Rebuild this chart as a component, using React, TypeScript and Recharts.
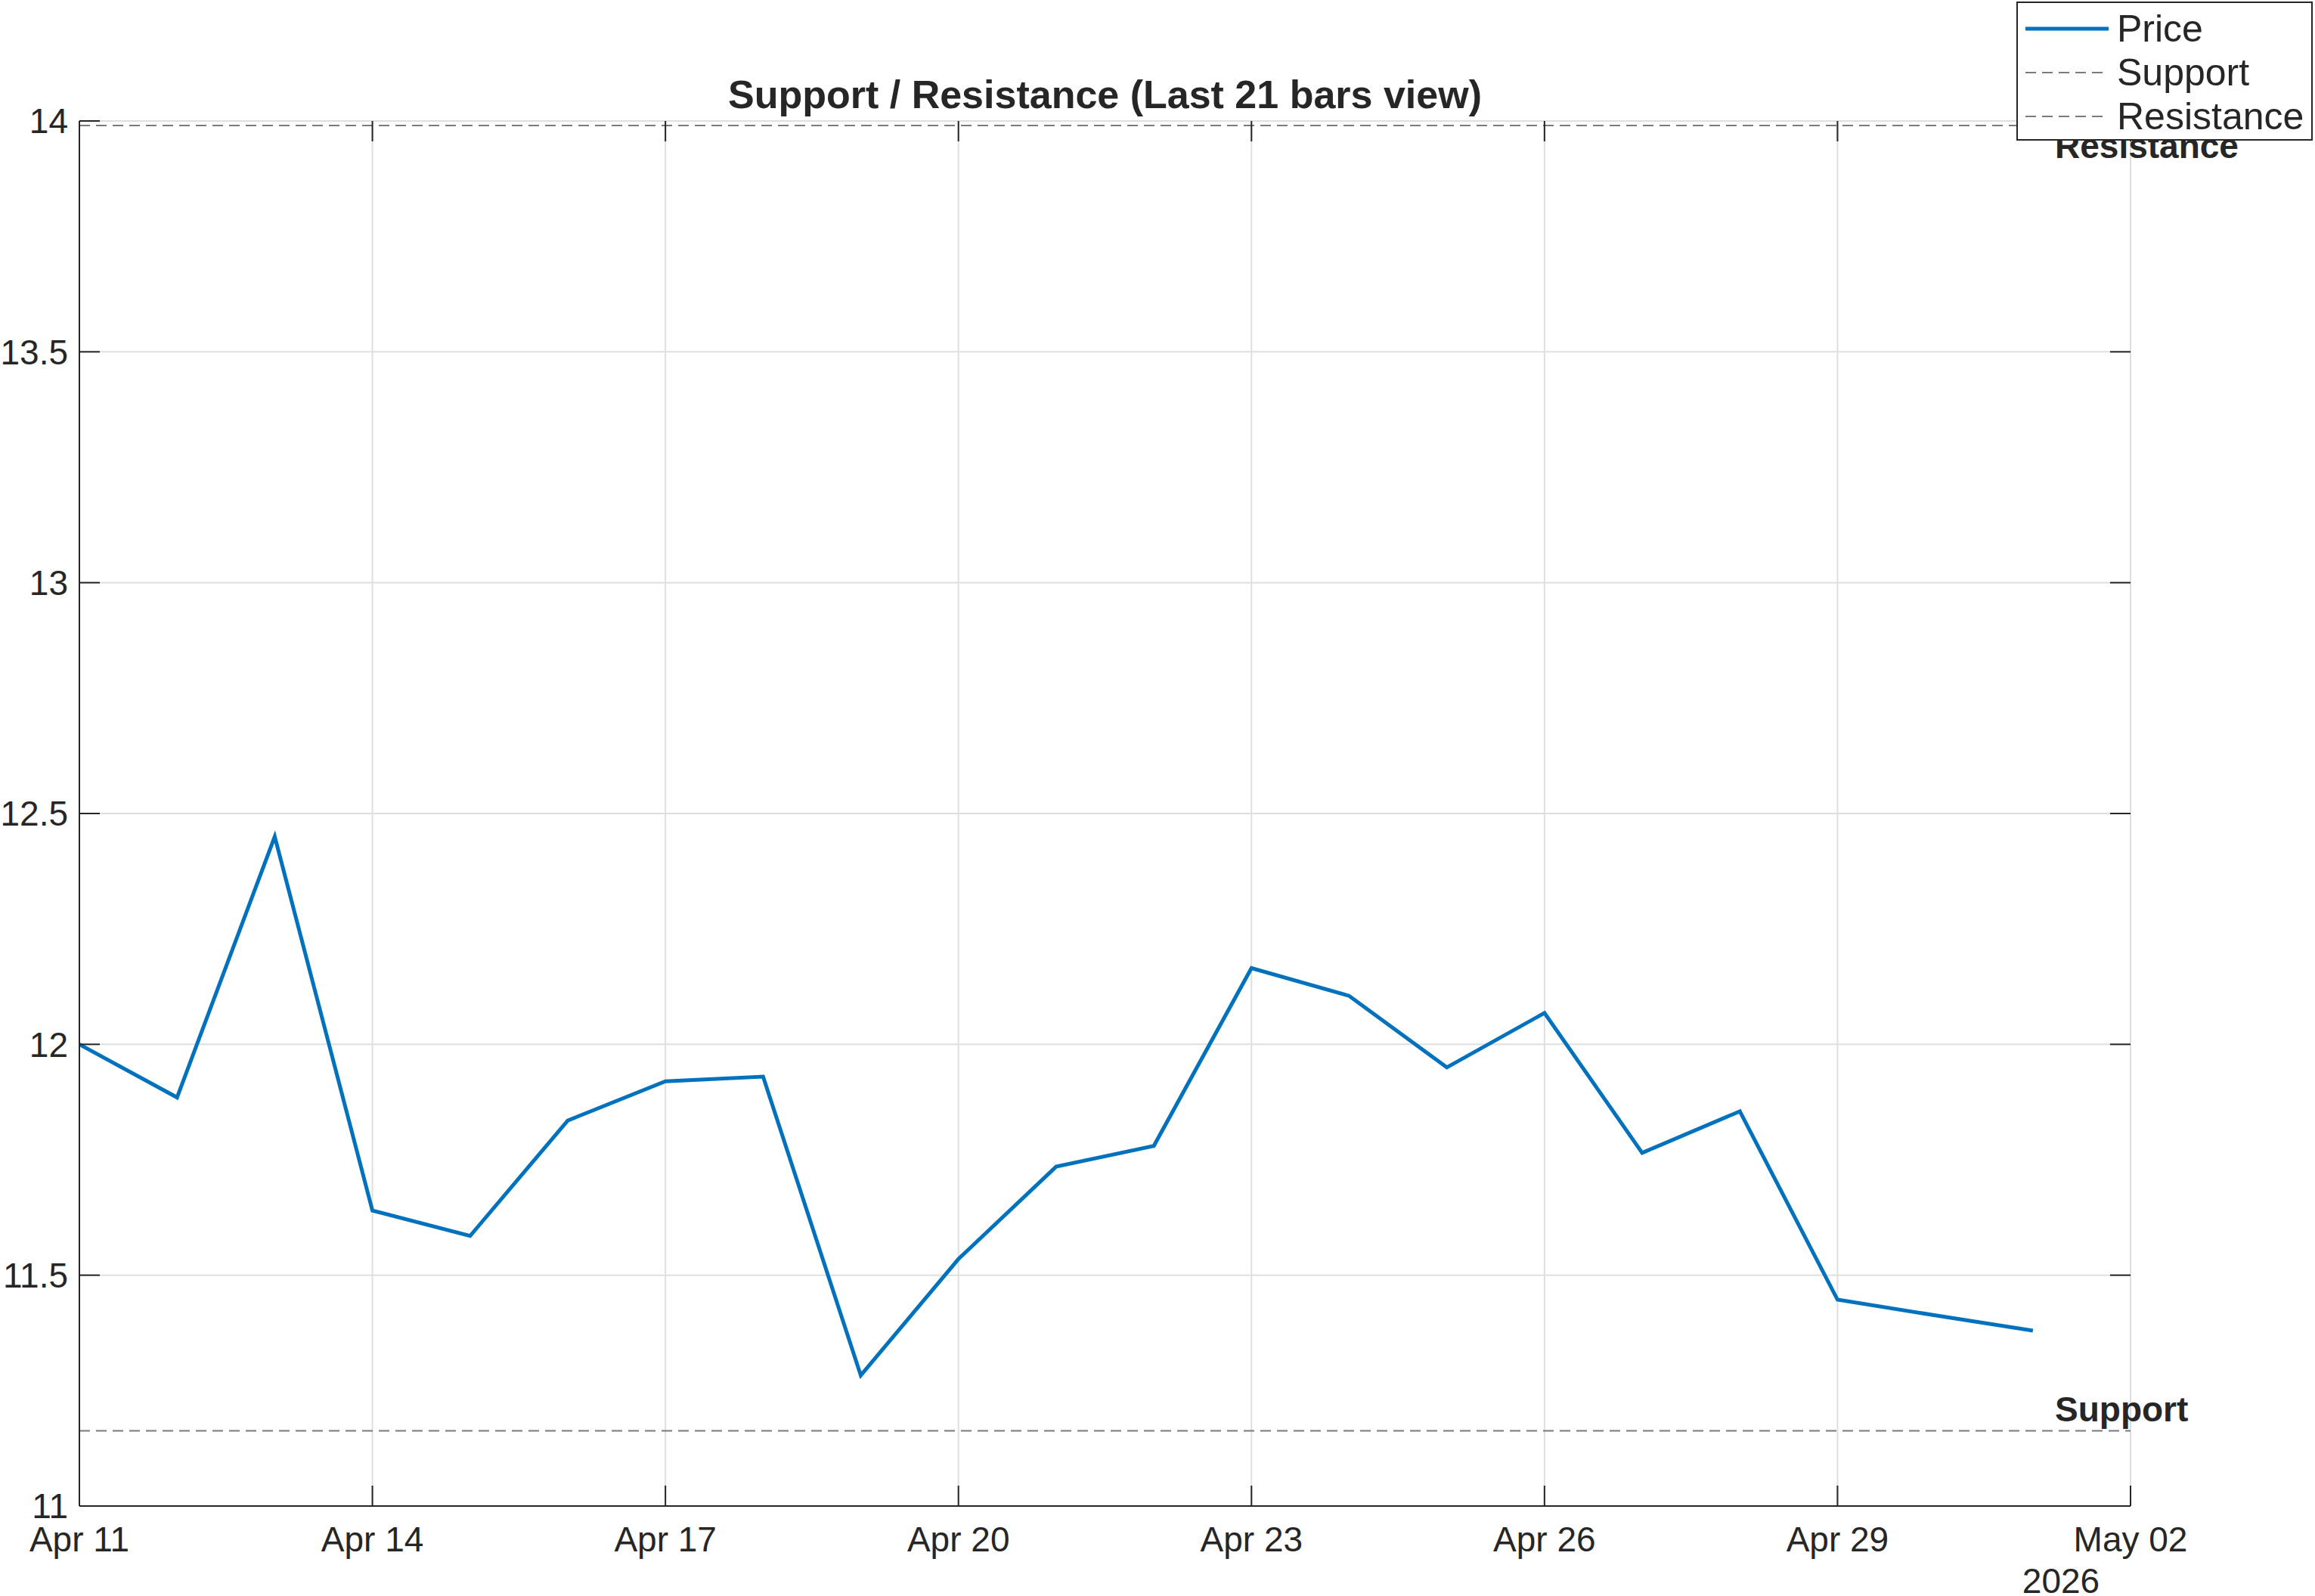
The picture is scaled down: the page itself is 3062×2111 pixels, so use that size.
import React from "react";
import {
  LineChart,
  Line,
  XAxis,
  YAxis,
  CartesianGrid,
  ReferenceLine,
} from "recharts";

const dates = [
  "2026-04-11", "2026-04-12", "2026-04-13", "2026-04-14", "2026-04-15",
  "2026-04-16", "2026-04-17", "2026-04-18", "2026-04-19", "2026-04-20",
  "2026-04-21", "2026-04-22", "2026-04-23", "2026-04-24", "2026-04-25",
  "2026-04-26", "2026-04-27", "2026-04-28", "2026-04-29", "2026-04-30",
  "2026-05-01",
];
const prices = [
  12.0, 11.885, 12.45, 11.64, 11.585, 11.835, 11.92, 11.93, 11.283, 11.535,
  11.735, 11.78, 12.165, 12.105, 11.95, 12.068, 11.765, 11.855, 11.447,
  11.413, 11.38,
];
const supportLevel = 11.163;
const resistanceLevel = 13.99;

const xTickDates = [
  "2026-04-11", "2026-04-14", "2026-04-17", "2026-04-20",
  "2026-04-23", "2026-04-26", "2026-04-29", "2026-05-02",
];
const xTickLabels = ["Apr 11", "Apr 14", "Apr 17", "Apr 20", "Apr 23", "Apr 26", "Apr 29", "May 02"];
const yTicks = [11, 11.5, 12, 12.5, 13, 13.5, 14];

const DAY = 24 * 3600 * 1000;
const t0 = Date.parse(dates[0]);
const dayOf = (d: string) => Math.round((Date.parse(d) - t0) / DAY);
const xTicks = xTickDates.map(dayOf);

const data = dates.map((d, i) => ({ t: dayOf(d), price: prices[i] }));

// layout (px)
const W = 3062;
const H = 2111;
const PLOT_LEFT = 105;
const PLOT_RIGHT = 2818;
const PLOT_TOP = 160;
const PLOT_BOTTOM = 1992;
const TICK_LEN = 27;
const X_MARGIN = 27;
const Y_MARGIN = 15;

const FONT = "'Liberation Sans', Arial, Helvetica, sans-serif";
const INK = "#262626";
const BLUE = "#0072BD";
const DASH = "#7a7a7a";

const XTick = (props: any) => {
  const { x, y, payload } = props;
  const i = xTicks.indexOf(payload.value);
  const base = y - X_MARGIN;
  return (
    <g>
      <line x1={x} x2={x} y1={base} y2={base - TICK_LEN} stroke={INK} strokeWidth={2} />
      <line x1={x} x2={x} y1={PLOT_TOP} y2={PLOT_TOP + TICK_LEN} stroke={INK} strokeWidth={2} />
      <text x={x} y={y} dy="0.71em" textAnchor="middle" fontSize={46} fontFamily={FONT} fill={INK}>
        {i >= 0 ? xTickLabels[i] : ""}
      </text>
    </g>
  );
};

const YTick = (props: any) => {
  const { x, y, payload } = props;
  return (
    <g>
      <line x1={PLOT_LEFT} x2={PLOT_LEFT + TICK_LEN} y1={y} y2={y} stroke={INK} strokeWidth={2} />
      <line x1={PLOT_RIGHT - TICK_LEN} x2={PLOT_RIGHT} y1={y} y2={y} stroke={INK} strokeWidth={2} />
      <text x={x} y={y} dy="0.355em" textAnchor="end" fontSize={46} fontFamily={FONT} fill={INK}>
        {payload.value}
      </text>
    </g>
  );
};

const levelLabel = (text: string, below: boolean) => (props: any) => {
  const vb = props.viewBox || {};
  return (
    <text
      x={vb.x + vb.width - 100}
      y={below ? vb.y + 43 : vb.y - 12}
      fontSize={46}
      fontWeight="bold"
      fontFamily={FONT}
      fill={INK}
    >
      {text}
    </text>
  );
};

const legendItems = [
  { name: "Price", color: BLUE, dash: false },
  { name: "Support", color: DASH, dash: true },
  { name: "Resistance", color: DASH, dash: true },
];

export default function App() {
  return (
    <div style={{ position: "absolute", left: 0, top: 0, width: W, height: H, background: "#fff", fontFamily: FONT }}>
      <LineChart
        width={W}
        height={H}
        data={data}
        margin={{ top: PLOT_TOP, right: W - PLOT_RIGHT, bottom: 0, left: 0 }}
      >
        <CartesianGrid stroke="#dfdfdf" strokeWidth={2} />
        <XAxis
          dataKey="t"
          type="number"
          domain={[0, 21]}
          ticks={xTicks}
          interval={0}
          height={H - PLOT_BOTTOM}
          tickSize={0}
          tickMargin={X_MARGIN}
          tick={<XTick />}
          axisLine={{ stroke: INK, strokeWidth: 2 }}
          tickLine={false}
        />
        <XAxis
          xAxisId="top"
          orientation="top"
          dataKey="t"
          type="number"
          domain={[0, 21]}
          height={0}
          tick={false}
          tickLine={false}
          axisLine={{ stroke: INK, strokeWidth: 2 }}
        />
        <YAxis
          type="number"
          domain={[11, 14]}
          ticks={yTicks}
          interval={0}
          width={PLOT_LEFT}
          tickSize={0}
          tickMargin={Y_MARGIN}
          tick={<YTick />}
          axisLine={{ stroke: INK, strokeWidth: 2 }}
          tickLine={false}
        />
        <YAxis
          yAxisId="right"
          orientation="right"
          type="number"
          domain={[11, 14]}
          width={0}
          tick={false}
          tickLine={false}
          axisLine={{ stroke: INK, strokeWidth: 2 }}
        />
        <Line
          dataKey="price"
          type="linear"
          stroke={BLUE}
          strokeWidth={5}
          dot={false}
          activeDot={false}
          isAnimationActive={false}
        />
        <ReferenceLine
          y={supportLevel}
          stroke={DASH}
          strokeWidth={2}
          strokeDasharray="14 8"
          label={levelLabel("Support", false)}
        />
        <ReferenceLine
          y={resistanceLevel}
          stroke={DASH}
          strokeWidth={2}
          strokeDasharray="14 8"
          label={levelLabel("Resistance", true)}
        />
      </LineChart>

      <div
        style={{
          position: "absolute",
          left: PLOT_LEFT,
          width: PLOT_RIGHT - PLOT_LEFT,
          top: 95,
          textAlign: "center",
          fontSize: 52,
          fontWeight: "bold",
          color: INK,
          lineHeight: "60px",
        }}
      >
        Support / Resistance (Last 21 bars view)
      </div>

      <div
        style={{
          position: "absolute",
          left: 2626,
          width: 200,
          top: 2072,
          textAlign: "center",
          fontSize: 46,
          color: INK,
          lineHeight: "38px",
        }}
      >
        2026
      </div>

      <div
        style={{
          position: "absolute",
          left: 2667,
          top: 2,
          width: 388,
          height: 180,
          border: `2px solid ${INK}`,
          background: "#fff",
        }}
      >
        {legendItems.map((it, i) => (
          <div
            key={it.name}
            style={{
              position: "absolute",
              left: 10,
              top: 5 + i * 58,
              height: 58,
              display: "flex",
              alignItems: "center",
            }}
          >
            <svg width={110} height={10} style={{ display: "block" }}>
              <line
                x1={0}
                x2={110}
                y1={5}
                y2={5}
                stroke={it.color}
                strokeWidth={it.dash ? 2 : 5}
                strokeDasharray={it.dash ? "14 8" : undefined}
              />
            </svg>
            <span style={{ marginLeft: 11, fontSize: 50, color: INK, lineHeight: "58px" }}>{it.name}</span>
          </div>
        ))}
      </div>
    </div>
  );
}
